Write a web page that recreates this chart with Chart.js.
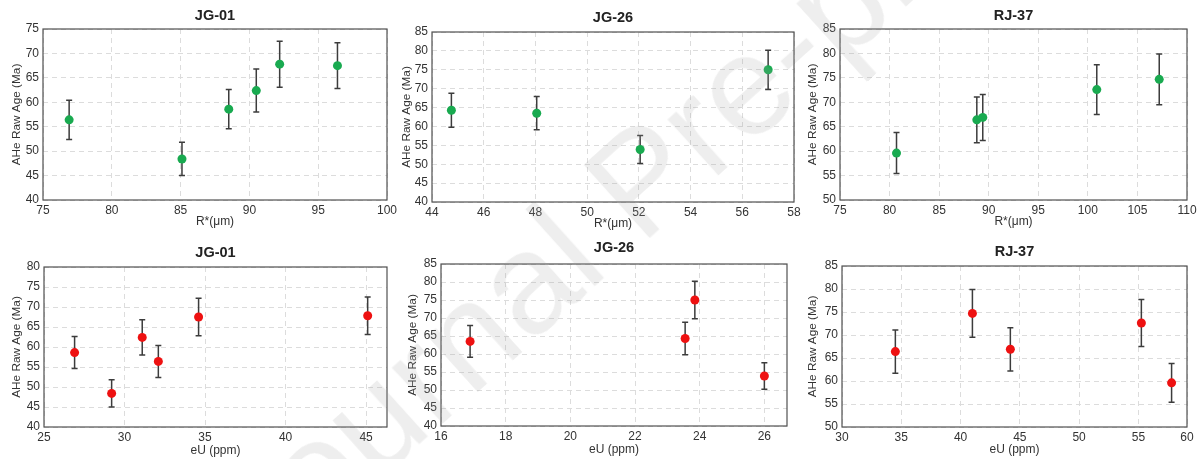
<!DOCTYPE html>
<html>
<head>
<meta charset="utf-8">
<script src="https://cdn.jsdelivr.net/npm/chart.js@4/dist/chart.umd.min.js"></script>
<style>
  html, body { margin: 0; padding: 0; background: #fff; overflow: hidden; }
  #page { position: relative; width: 1200px; height: 459px; overflow: hidden; background: #fff; }
  #page canvas { position: absolute; }
  #mark {
    position: absolute; left: 640px; top: 180px;
    transform: translate(-50%, -50%) rotate(-42deg);
    font: 142px 'Liberation Sans', Arial, sans-serif; line-height: 1;
    white-space: nowrap; color: rgba(160, 160, 160, 0.18); pointer-events: none;
  }
</style>
</head>
<body>
<div id="page"><div id="mark">Journal Pre-proof</div></div>
<script>
// JG-01
const jg01R = [76.9, 85.1, 88.5, 90.5, 92.2, 96.4];
const jg01EU = [32.1, 29.2, 26.9, 31.1, 45.1, 34.6];
const jg01Age = [56.4, 48.4, 58.6, 62.4, 67.8, 67.5];
const jg01Err = [4.0, 3.4, 4.0, 4.4, 4.7, 4.7];

// JG-26
const jg26R = [44.75, 48.05, 52.05, 57.0];
const jg26EU = [23.55, 16.9, 26.0, 23.85];
const jg26Age = [64.3, 63.5, 53.9, 75.0];
const jg26Err = [4.5, 4.4, 3.7, 5.2];

// RJ-37
const rj37R = [80.7, 88.8, 89.4, 100.9, 107.2];
const rj37EU = [57.8, 34.5, 44.2, 55.25, 41.0];
const rj37Age = [59.6, 66.4, 66.9, 72.6, 74.7];
const rj37Err = [4.2, 4.7, 4.7, 5.1, 5.2];

// 軸の範囲 [min, max, step]
const jg01RAxis = [75, 100, 5];
const jg26RAxis = [44, 58, 2];
const rj37RAxis = [75, 110, 5];
const jg01EUAxis = [25, 46.3, 5];
const jg26EUAxis = [16, 26.7, 2];
const rj37EUAxis = [30, 59.1, 5];
const rj37EUEndLabel = '60';

const jg01AgeAxis = [40, 75, 5];
const jg26AgeAxis = [40, 85, 5];
const rj37AgeAxis = [50, 85, 5];
const jg01AgeAxis2 = [40, 80, 5];

const GREEN = '#19aa50';
const RED = '#ee1111';

Chart.defaults.font.family = "'Liberation Sans', Arial, sans-serif";
Chart.defaults.color = '#333';

// エラーバーと枠線
const errorBars = {
  id: 'errorBars',
  beforeDatasetsDraw(chart) {
    const ctx = chart.ctx;
    const a = chart.chartArea;
    ctx.save();
    ctx.strokeStyle = '#505050';
    ctx.lineWidth = 1.2;
    ctx.strokeRect(a.left, a.top, a.right - a.left, a.bottom - a.top);
    const xs = chart.scales.x, ys = chart.scales.y;
    ctx.strokeStyle = '#3c3c3c';
    ctx.lineWidth = 1.5;
    for (const ds of chart.data.datasets) {
      ds.data.forEach((p, i) => {
        const e = ds.errors[i];
        const px = xs.getPixelForValue(p.x);
        const top = ys.getPixelForValue(p.y + e);
        const bot = ys.getPixelForValue(p.y - e);
        ctx.beginPath();
        ctx.moveTo(px, top); ctx.lineTo(px, bot);
        ctx.moveTo(px - 3, top); ctx.lineTo(px + 3, top);
        ctx.moveTo(px - 3, bot); ctx.lineTo(px + 3, bot);
        ctx.stroke();
      });
    }
    ctx.restore();
  }
};

const panels = [
  { title: 'JG-01', xTitle: 'R*(μm)', xs: jg01R, ys: jg01Age, errs: jg01Err, color: GREEN, xAxis: jg01RAxis, yAxis: jg01AgeAxis, rect: [43, 29, 387, 200], tGap: 12.6, xGap: 22, yOff: 26 },
  { title: 'JG-26', xTitle: 'R*(μm)', xs: jg26R, ys: jg26Age, errs: jg26Err, color: GREEN, xAxis: jg26RAxis, yAxis: jg26AgeAxis, rect: [432, 32, 794, 202], tGap: 14.4, xGap: 22, yOff: 25 },
  { title: 'RJ-37', xTitle: 'R*(μm)', xs: rj37R, ys: rj37Age, errs: rj37Err, color: GREEN, xAxis: rj37RAxis, yAxis: rj37AgeAxis, rect: [840, 29, 1187, 200], tGap: 12.6, xGap: 22, yOff: 27 },
  { title: 'JG-01', xTitle: 'eU (ppm)', xs: jg01EU, ys: jg01Age, errs: jg01Err, color: RED, xAxis: jg01EUAxis, yAxis: jg01AgeAxis2, rect: [44, 267, 387, 427], tGap: 14, xGap: 24, yOff: 27 },
  { title: 'JG-26', xTitle: 'eU (ppm)', xs: jg26EU, ys: jg26Age, errs: jg26Err, color: RED, xAxis: jg26EUAxis, yAxis: jg26AgeAxis, rect: [441, 264, 787, 426], tGap: 16, xGap: 24, yOff: 28 },
  { title: 'RJ-37', xTitle: 'eU (ppm)', xs: rj37EU, ys: rj37Age, errs: rj37Err, color: RED, xAxis: rj37EUAxis, yAxis: rj37AgeAxis, rect: [842, 266, 1187, 427], tGap: 14, xGap: 23, yOff: 29, endLabel: rj37EUEndLabel }
];

const LEFT_W = 50, RIGHT_W = 16, TOP_H = 36, BOTTOM_H = 40;
const TITLE_SIZE = 14.5, X_TITLE_SIZE = 12, Y_TITLE_SIZE = 11.8;

function makePanel(p) {
  const [l, t, r, b] = p.rect;
  const canvas = document.createElement('canvas');
  canvas.width = r - l + LEFT_W + RIGHT_W;
  canvas.height = b - t + TOP_H + BOTTOM_H;
  canvas.style.left = (l - LEFT_W) + 'px';
  canvas.style.top = (t - TOP_H) + 'px';
  canvas.style.width = canvas.width + 'px';
  canvas.style.height = canvas.height + 'px';
  document.getElementById('page').insertBefore(canvas, document.getElementById('mark'));

  const [xMin, xMax, xStep] = p.xAxis;
  const [yMin, yMax, yStep] = p.yAxis;
  const pts = p.xs.map((x, i) => ({ x: x, y: p.ys[i] }));
  const grid = { color: '#dcdcdc', lineWidth: 1, drawTicks: false };
  const border = { display: false, dash: [5, 4] };
  const titleLH = TITLE_SIZE * 1.2;

  new Chart(canvas, {
    type: 'scatter',
    data: {
      datasets: [{
        data: pts,
        errors: p.errs,
        backgroundColor: p.color,
        borderColor: p.color,
        pointRadius: 4.5,
        pointBorderWidth: 0
      }]
    },
    options: {
      responsive: false,
      animation: false,
      devicePixelRatio: 1,
      layout: { padding: { left: 0, right: RIGHT_W, top: 0, bottom: 0 } },
      plugins: {
        legend: { display: false },
        tooltip: { enabled: false },
        title: {
          display: true,
          text: p.title,
          fullSize: false,
          color: '#222',
          font: { size: TITLE_SIZE, weight: 'bold', lineHeight: 1.2 },
          padding: { top: TOP_H - titleLH - (p.tGap - titleLH / 2), bottom: p.tGap - titleLH / 2 }
        }
      },
      scales: {
        x: {
          type: 'linear',
          min: xMin, max: xMax,
          grid: grid, border: border,
          ticks: {
            stepSize: xStep, includeBounds: false, autoSkip: false, maxRotation: 0,
            padding: 3, color: '#333', font: { size: 12 },
            callback: (v) => (p.endLabel && v === xMax) ? p.endLabel : v
          },
          afterBuildTicks: (s) => { if (p.endLabel) s.ticks.push({ value: xMax }); },
          afterFit: (s) => { s.height = BOTTOM_H; },
          title: {
            display: true, text: p.xTitle, color: '#333',
            font: { size: X_TITLE_SIZE, lineHeight: 1.2 },
            padding: { top: 0, bottom: BOTTOM_H - X_TITLE_SIZE * 0.6 - p.xGap }
          }
        },
        y: {
          type: 'linear',
          min: yMin, max: yMax,
          grid: grid, border: border,
          ticks: { stepSize: yStep, padding: 4, color: '#333', font: { size: 12 } },
          afterFit: (s) => { s.width = LEFT_W; },
          title: {
            display: true, text: 'AHe Raw Age (Ma)', color: '#333',
            font: { size: Y_TITLE_SIZE, lineHeight: 1.2 },
            padding: { top: LEFT_W - Y_TITLE_SIZE * 0.6 - p.yOff, bottom: 0 }
          }
        }
      }
    },
    plugins: [errorBars]
  });
}

panels.forEach(makePanel);
</script>
</body>
</html>
